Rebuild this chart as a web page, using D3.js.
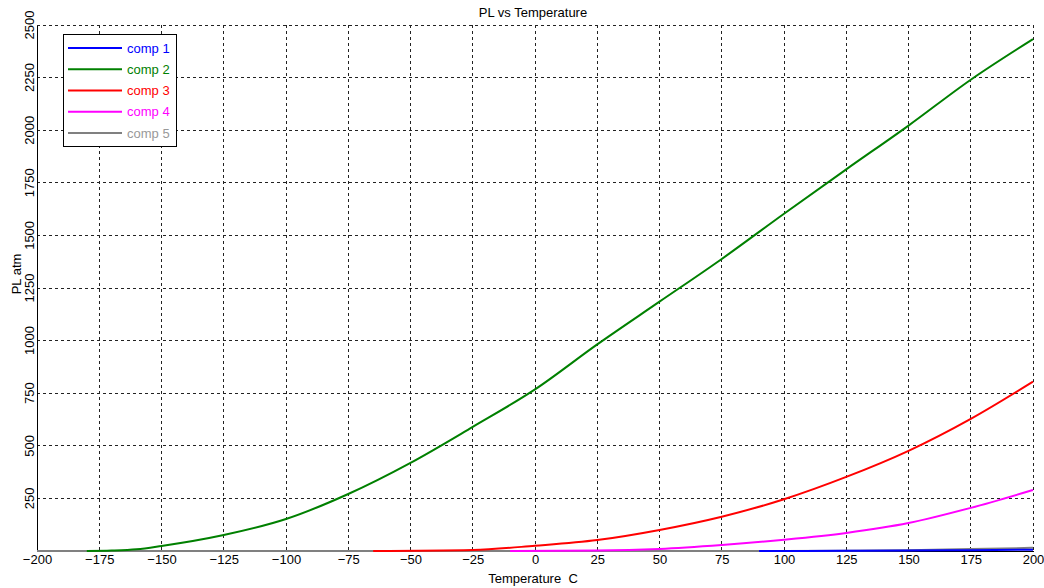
<!DOCTYPE html>
<html>
<head>
<meta charset="utf-8">
<script src="https://cdn.jsdelivr.net/npm/d3@7"></script>
<style>
  html, body { margin: 0; padding: 0; background: #fff; }
  svg { display: block; font-family: "Liberation Sans", Arial, sans-serif; }
</style>
</head>
<body>
<svg id="chart" width="1044" height="588"></svg>
<script>
// values: [temperature C, PL atm]
const comp1 = [[90, 0], [125, 1], [150, 2], [175, 4], [200, 6]];
const comp2 = [[-180, 0], [-170, 2], [-160, 8], [-150, 24], [-125, 76], [-100, 152], [-75, 271],
  [-50, 419], [-25, 590], [0, 768], [25, 982], [50, 1185], [75, 1388], [100, 1603],
  [125, 1814], [150, 2022], [175, 2240], [200, 2433]];
const comp3 = [[-65, 0], [-25, 5], [0, 25], [25, 52], [50, 100], [75, 163], [100, 246],
  [125, 352], [150, 476], [175, 628], [200, 805]];
const comp4 = [[-10, 0], [25, 2], [50, 10], [75, 29], [100, 54], [125, 86], [150, 133],
  [175, 205], [200, 290]];
const comp5 = [[-200, 0], [100, 0], [125, 1], [150, 4], [175, 9], [200, 15]];

const seriesNames = ['comp 1', 'comp 2', 'comp 3', 'comp 4', 'comp 5'];
const seriesData = [comp1, comp2, comp3, comp4, comp5];
const lineColors = ['#0000ff', '#008000', '#ff0000', '#ff00ff', '#808080'];
const textColors = ['#0000ff', '#008000', '#ff0000', '#ff00ff', '#999999'];
const drawOrder = [4, 0, 1, 2, 3];

const xTicks = d3.range(-200, 201, 25);
const yTicks = d3.range(250, 2501, 250);

const plotLeft = 37, plotRight = 1033, plotTop = 25, plotBottom = 551;

const svg = d3.select('#chart');
const x = d3.scaleLinear().domain([-200, 200]).range([plotLeft, plotRight]);
const y = d3.scaleLinear().domain([0, 2500]).range([plotBottom, plotTop]);

// grid
const grid = svg.append('g')
  .attr('stroke', '#222')
  .attr('stroke-width', 1)
  .attr('stroke-dasharray', '3,3')
  .attr('shape-rendering', 'crispEdges');

grid.selectAll('line.v')
  .data(xTicks.filter((t) => t > -200))
  .join('line')
  .attr('class', 'v')
  .attr('x1', (t) => x(t)).attr('x2', (t) => x(t))
  .attr('y1', plotTop).attr('y2', plotBottom);

grid.selectAll('line.h')
  .data(yTicks)
  .join('line')
  .attr('class', 'h')
  .attr('x1', plotLeft).attr('x2', plotRight)
  .attr('y1', (t) => y(t)).attr('y2', (t) => y(t));

// axes
const xAxis = d3.axisBottom(x).tickValues(xTicks).tickFormat(d3.format('d')).tickSize(0).tickPadding(4);
const gx = svg.append('g').attr('transform', `translate(0,${plotBottom})`).call(xAxis);
gx.select('.domain').attr('stroke', '#000').attr('shape-rendering', 'crispEdges');
gx.selectAll('text').attr('font-size', 13).attr('fill', '#000')
  .attr('font-family', '"Liberation Sans", Arial, sans-serif');

const yAxis = d3.axisLeft(y).tickValues(yTicks).tickFormat(d3.format('d')).tickSize(0).tickPadding(3);
const gy = svg.append('g').attr('transform', `translate(${plotLeft},0)`).call(yAxis);
gy.select('.domain').attr('stroke', '#000').attr('shape-rendering', 'crispEdges');
gy.selectAll('.tick').attr('transform', null);
gy.selectAll('text')
  .attr('font-size', 13).attr('fill', '#000')
  .attr('font-family', '"Liberation Sans", Arial, sans-serif')
  .attr('text-anchor', 'middle')
  .attr('dy', null)
  .attr('x', null)
  .attr('y', 0)
  .attr('transform', (t) => `translate(-3,${y(t)}) rotate(-90)`);

// series
const line = d3.line().x((d) => x(d[0])).y((d) => y(d[1])).curve(d3.curveMonotoneX);
svg.append('g')
  .selectAll('path')
  .data(drawOrder)
  .join('path')
  .attr('d', (i) => line(seriesData[i]))
  .attr('fill', 'none')
  .attr('stroke', (i) => lineColors[i])
  .attr('stroke-width', 2);

// titles
svg.append('text')
  .attr('x', 533).attr('y', 17)
  .attr('text-anchor', 'middle')
  .attr('font-size', 13)
  .text('PL vs Temperature');

svg.append('text')
  .attr('x', 533).attr('y', 583)
  .attr('text-anchor', 'middle')
  .attr('font-size', 13)
  .attr('xml:space', 'preserve')
  .text('Temperature  C');

svg.append('text')
  .attr('transform', 'translate(21,274) rotate(-90)')
  .attr('text-anchor', 'middle')
  .attr('font-size', 13)
  .text('PL atm');

// legend
const legend = svg.append('g');
legend.append('rect')
  .attr('x', 63.5).attr('y', 34.5)
  .attr('width', 113).attr('height', 112)
  .attr('fill', '#fff').attr('stroke', '#000');

const rowY = d3.scalePoint().domain(seriesNames).range([48, 133]);
const rows = legend.selectAll('g.row').data(seriesNames).join('g').attr('class', 'row');
rows.append('line')
  .attr('x1', 68).attr('x2', 122)
  .attr('y1', (n) => rowY(n)).attr('y2', (n) => rowY(n))
  .attr('stroke', (n, i) => lineColors[i])
  .attr('stroke-width', 2);
rows.append('text')
  .attr('x', 127).attr('y', (n) => rowY(n) + 4.5)
  .attr('font-size', 13)
  .attr('fill', (n, i) => textColors[i])
  .text((n) => n);
</script>
</body>
</html>
